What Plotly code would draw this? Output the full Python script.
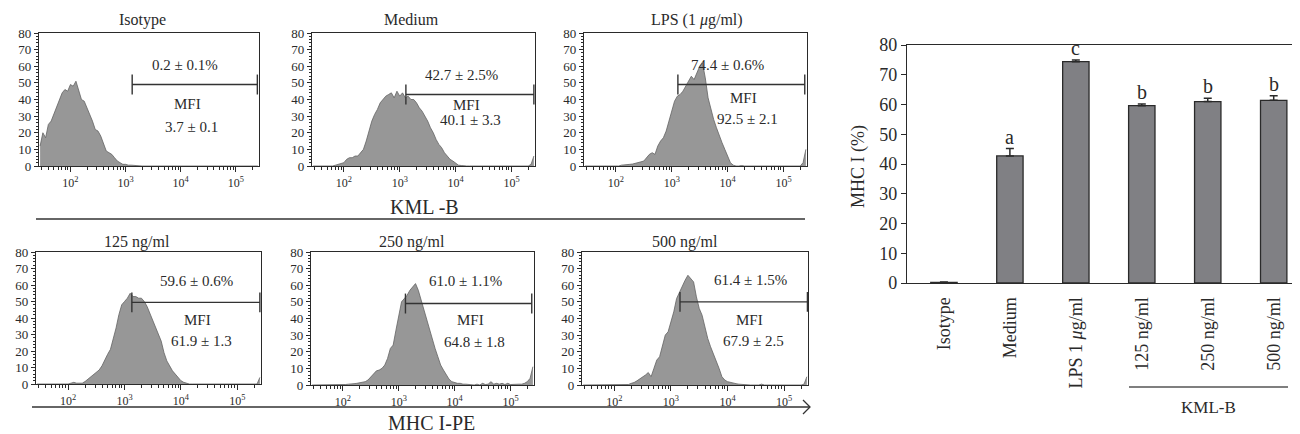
import numpy as np
import plotly.graph_objects as go

W, H = 1300, 434
FONT = "Liberation Serif"
INK = "#2a2a2a"
PAGE_OFFSET = 8  # default body margin of the page that hosts the figure

# ---------------- data ----------------
# histogram bin positions (log10 of fluorescence intensity)
log_bins = np.round(np.arange(1.45, 5.4001, 0.05), 2)

hist_titles = ["Isotype", "Medium", "LPS (1 <i>μ</i>g/ml)", "125 ng/ml", "250 ng/ml", "500 ng/ml"]
pct_labels = ["0.2 ± 0.1%", "42.7 ± 2.5%", "74.4 ± 0.6%", "59.6 ± 0.6%", "61.0 ± 1.1%", "61.4 ± 1.5%"]
mfi_labels = ["3.7 ± 0.1", "40.1 ± 3.3", "92.5 ± 2.1", "61.9 ± 1.3", "64.8 ± 1.8", "67.9 ± 2.5"]

counts_isotype = [12, 20, 17, 25, 27, 31, 36, 40, 44, 46,
                  45, 49, 48, 51, 45, 40, 39, 35, 32, 27,
                  22, 21, 18, 14, 9, 8, 7, 5, 3, 2,
                  1, 1, 0.5, 0.5, 0.3, 0, 0, 0, 0, 0,
                  0, 0, 0, 0, 0, 0, 0, 0, 0, 0,
                  0, 0, 0, 0, 0, 0, 0, 0, 0, 0,
                  0, 0, 0, 0, 0, 0, 0, 0, 0, 0,
                  0, 0, 0, 0, 0, 0, 0, 0, 0, 0]
counts_medium = [0, 0, 0, 0, 0, 0, 0, 0, 0.5, 1,
                 1.5, 2, 4, 5, 5, 6, 6, 8, 10, 15,
                 21, 27, 31, 34, 38, 40, 42, 43, 44, 41,
                 45, 42, 44, 41, 42, 40, 40, 38, 35, 33,
                 30, 27, 23, 20, 16, 13, 11, 8, 6, 4,
                 3, 1.5, 0.5, 0.3, 0, 0, 0, 0, 0, 0,
                 0, 0, 0, 0, 0, 0, 0, 0, 0, 0,
                 0, 0, 0, 0, 0, 0, 0, 0, 1, 6]
counts_lps = [0, 0, 0, 0, 0, 0, 0, 0, 0, 0,
              0, 0, 0, 0.5, 0.8, 1, 1, 1.2, 1.5, 2,
              2.5, 3, 5, 7, 8, 7, 12, 15, 17, 21,
              27, 33, 39, 42, 43, 45, 48, 51, 54, 52,
              56, 60, 62, 53, 41, 34, 28, 23, 18, 14,
              10, 6, 2, 0.5, 0, 0, 0.3, 0, 0, 0,
              0, 0, 0.3, 0, 0, 0, 0.3, 0, 0, 0,
              0, 0, 0, 0, 0, 0, 0, 0, 2, 10]
counts_125 = [0, 0, 0, 0, 0, 0, 0, 0, 0, 0,
              0, 0, 0.5, 1, 0.5, 0.3, 0.5, 1.5, 3, 4,
              6, 7, 8.5, 11, 15, 18, 21, 27, 34, 42,
              48, 50, 52, 55, 53, 53, 52, 52, 50, 47,
              43, 38, 34, 30, 26, 19, 14, 11, 8, 6,
              4, 2, 1, 0.5, 0, 0, 0, 0, 0, 0,
              0, 0, 0, 0, 0, 0, 0, 0, 0, 0,
              0, 0, 0, 0, 0, 0, 0, 0, 0, 4]
counts_250 = [0, 0, 0, 0, 0, 0, 0, 0, 0, 0,
              0, 0, 0.3, 0.5, 0.5, 0.8, 1, 1.2, 1.5, 2,
              3, 5, 7, 8.5, 9, 10, 12, 16, 22, 24,
              33, 42, 50, 52, 54, 57, 59, 61, 57, 51,
              45, 39, 33, 27, 22, 17, 12, 9, 6, 3.5,
              2, 1.5, 1, 1, 0.5, 0.5, 0.3, 0.5, 0, 0.5,
              0, 1, 0.3, 0.5, 2, 0.5, 1, 0.5, 1, 0.3,
              1, 0.3, 0.5, 0.3, 0.5, 0.5, 1, 2, 4, 11]
counts_500 = [0, 0, 0, 0, 0, 0, 0, 0, 0, 0,
              0, 0, 0, 0, 0, 0, 0.3, 1, 1.5, 2.5,
              3.5, 5, 6, 7.5, 5, 10, 15, 17, 23, 30,
              32, 38, 44, 52, 56, 60, 63, 66, 64, 62,
              53, 46, 42, 35, 28, 23, 19, 15, 10, 5,
              3, 2, 1.5, 1, 0.8, 0.5, 0.3, 0, 0, 0,
              0, 0, 0, 0.5, 0, 0, 0, 0, 0, 0,
              0, 0, 0, 0, 0, 0, 0, 0, 0.5, 5]
hist_counts = [counts_isotype, counts_medium, counts_lps, counts_125, counts_250, counts_500]

# gate markers (log10 start, log10 end, height)
gate_lo = [3.12, 3.11, 3.11, 3.13, 3.12, 3.16]
gate_hi = [5.39, 5.40, 5.38, 5.40, 5.38, 5.41]
gate_y = [49, 43, 49, 49.5, 49, 50]
gate_half = 6

# bar chart
bar_categories = ["Isotype", "Medium", "LPS 1 <i>μ</i>g/ml", "125 ng/ml", "250 ng/ml", "500 ng/ml"]
bar_values = [0.2, 42.7, 74.4, 59.6, 61.0, 61.4]
bar_errors = [0.1, 2.5, 0.6, 0.6, 1.1, 1.5]
bar_letters = ["", "a", "c", "b", "b", "b"]

# ---------------- layout helpers ----------------
def fx(p):
    return (p - PAGE_OFFSET) / W

def fy(p):
    return 1 - (p - PAGE_OFFSET) / H

panels_px = [(39, 259, 33, 166), (312, 535, 33, 166), (584, 807, 33, 166),
             (36, 261, 252, 384), (311, 534, 252, 385), (582, 808, 252, 385)]
title_px = [(142, 20), (412, 20), (697, 20), (137, 242), (412, 242), (685, 242)]
pct_pos = [(4.07, 60.7), (4.11, 55), (4.0, 61), (4.28, 62.6), (4.2, 62.7), (4.41, 63)]
mfiw_pos = [(4.13, 37.5), (4.2, 36.5), (4.29, 41), (4.3, 39), (4.29, 39), (4.38, 39.4)]
mfiv_pos = [(4.19, 23.3), (4.26, 27.5), (4.35, 28), (4.36, 26), (4.35, 26), (4.45, 26.4)]

minor_vals = [m * 10.0 ** d for d in range(1, 6) for m in range(2, 10)]

fig = go.Figure()
annotations = []
shapes = []
layout_axes = {}


def label(x, y, text, size, xref="paper", yref="paper", **kw):
    d = dict(x=x, y=y, xref=xref, yref=yref, text=text, showarrow=False,
             xanchor="center", yanchor="middle", font=dict(family=FONT, size=size, color=INK))
    d.update(kw)
    annotations.append(d)


for k in range(6):
    n = k + 1
    xa = "x" if n == 1 else f"x{n}"
    ya = "y" if n == 1 else f"y{n}"
    x0, x1, y0, y1 = panels_px[k]
    fig.add_trace(go.Scatter(
        x=10 ** log_bins, y=hist_counts[k], mode="lines", fill="tozeroy",
        fillcolor="#979797", line=dict(color="#636363", width=0.8),
        xaxis=xa, yaxis=ya, hoverinfo="skip", showlegend=False))
    lo, hi, g = 10 ** gate_lo[k], 10 ** gate_hi[k], gate_y[k]
    fig.add_trace(go.Scatter(
        x=[lo, hi, None, lo, lo, None, hi, hi],
        y=[g, g, None, g - gate_half, g + gate_half, None, g - gate_half, g + gate_half],
        mode="lines", line=dict(color="#333333", width=1.4),
        xaxis=xa, yaxis=ya, hoverinfo="skip", showlegend=False))

    layout_axes["xaxis" if n == 1 else f"xaxis{n}"] = dict(
        domain=[fx(x0), fx(x1)], anchor=ya, type="log", range=[1.43, 5.42], automargin=False,
        tickvals=[1e2, 1e3, 1e4, 1e5],
        ticktext=["10<sup>2</sup>", "10<sup>3</sup>", "10<sup>4</sup>", "10<sup>5</sup>"],
        ticks="outside", ticklen=5, tickwidth=1, tickcolor=INK,
        minor=dict(tickvals=minor_vals, ticks="outside", ticklen=3, tickwidth=1, tickcolor=INK, showgrid=False),
        showline=True, linecolor=INK, linewidth=1.3, mirror=True,
        showgrid=False, zeroline=False,
        tickfont=dict(family=FONT, size=12, color=INK))
    layout_axes["yaxis" if n == 1 else f"yaxis{n}"] = dict(
        domain=[fy(y1), fy(y0)], anchor=xa, range=[0, 80], dtick=10, automargin=False,
        ticks="outside", ticklen=4, tickwidth=1, tickcolor=INK,
        minor=dict(dtick=2, ticks="outside", ticklen=2, tickwidth=1, tickcolor=INK, showgrid=False),
        showline=True, linecolor=INK, linewidth=1.3, mirror=True,
        showgrid=False, zeroline=False,
        tickfont=dict(family=FONT, size=13, color=INK))

    tx, ty = title_px[k]
    label(fx(tx), fy(ty), hist_titles[k], 16)
    for txt, (lx, ly) in [(pct_labels[k], pct_pos[k]), ("MFI", mfiw_pos[k]), (mfi_labels[k], mfiv_pos[k])]:
        label(lx, ly, txt, 15, xref=xa, yref=ya)

# group labels for the histogram grid
shapes.append(dict(type="line", xref="paper", yref="paper", x0=fx(36), x1=fx(805), y0=fy(219), y1=fy(219),
                   line=dict(color="#333333", width=1.3)))
label(fx(424), fy(207), "KML -B", 20)
shapes.append(dict(type="line", xref="paper", yref="paper", x0=fx(32), x1=fx(810), y0=fy(407), y1=fy(407),
                   line=dict(color="#333333", width=1.3)))
shapes.append(dict(type="path", xref="paper", yref="paper",
                   path=f"M {fx(803)} {fy(400)} L {fx(810)} {fy(407)} L {fx(803)} {fy(414)}",
                   line=dict(color="#333333", width=1.3)))
label(fx(431), fy(423), "MHC I-PE", 20)

# ---------------- bar chart ----------------
fig.add_trace(go.Bar(
    x=bar_categories, y=bar_values, width=0.4,
    marker=dict(color="#808084", line=dict(color="#2a2a2a", width=1.3)),
    error_y=dict(type="data", symmetric=False, array=bar_errors, arrayminus=[0] * len(bar_errors),
                 color="#2a2a2a", thickness=1.5, width=4),
    xaxis="x7", yaxis="y7", hoverinfo="skip", showlegend=False))

layout_axes["xaxis7"] = dict(
    domain=[fx(907), 1.0], anchor="y7", type="category", range=[-0.56, 5.52], automargin=False,
    showline=True, linecolor=INK, linewidth=1.3, mirror=True, ticks="",
    tickangle=-90, ticklabelstandoff=6, showgrid=False,
    tickfont=dict(family=FONT, size=18, color=INK))
layout_axes["yaxis7"] = dict(
    domain=[fy(283), fy(45)], anchor="x7", range=[0, 80], dtick=10, automargin=False,
    ticks="outside", ticklen=5, tickwidth=1, tickcolor=INK,
    showline=True, linecolor=INK, linewidth=1.3, showgrid=False, zeroline=False,
    tickfont=dict(family=FONT, size=18, color=INK))

for cat, v, e, lab in zip(bar_categories, bar_values, bar_errors, bar_letters):
    if lab:
        label(cat, v + e, lab, 20, xref="x7", yref="y7", yanchor="bottom", yshift=-1)

label(fx(858), fy(167), "MHC I (%)", 18, textangle=-90)
shapes.append(dict(type="line", xref="paper", yref="paper", x0=fx(1129), x1=fx(1288), y0=fy(387), y1=fy(387),
                   line=dict(color="#555555", width=1.5)))
label(fx(1208), fy(407), "KML-B", 17)

fig.update_layout(
    template="none",
    width=W, height=H, margin=dict(l=0, r=0, t=0, b=0, autoexpand=False),
    paper_bgcolor="white", plot_bgcolor="white",
    annotations=annotations, shapes=shapes, bargap=0.6,
    **layout_axes)

fig.write_html("out.html")
